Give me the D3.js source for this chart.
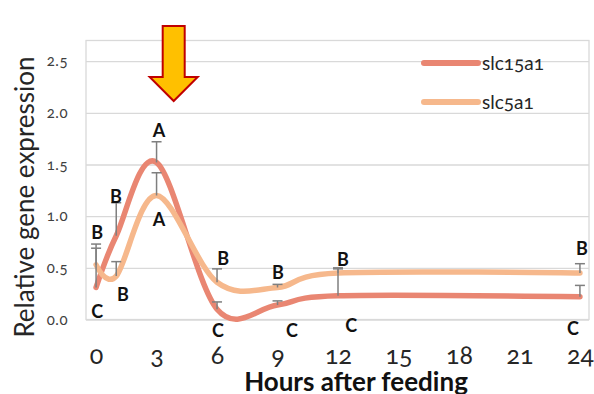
<!DOCTYPE html>
<html>
  <head>
    <meta charset="utf-8">
    <title>Relative gene expression</title>
    <script src="https://d3js.org/d3.v7.min.js"></script>
    <style>
      body { margin: 0; background: #fff; }
      text { font-family: Lato, "Open Sans", sans-serif; font-variant-numeric: oldstyle-nums; }
    </style>
  </head>
  <body>
<script>
// hours after feeding where samples were taken
var hours = [0, 1, 3, 6, 9, 12, 24];
var xTicks = [0, 3, 6, 9, 12, 15, 18, 21, 24];
var yTicks = [0, 0.5, 1, 1.5, 2, 2.5];

var seriesNames = ["slc15a1", "slc5a1"];
var slc15a1 = [0.31, 0.81, 1.52, 0.10, 0.14, 0.23, 0.22];
var slc15a1Err = [0.38, 0.32, 0.20, 0.07, 0.04, 0.27, 0.11];
var slc5a1 = [0.53, 0.42, 1.20, 0.36, 0.31, 0.45, 0.45];
var slc5a1Err = [0.20, 0.14, 0.22, 0.13, 0.03, 0.04, 0.09];

// significance letters, placed in chart units (hours, expression)
var letterText = ["B", "C", "B", "B", "A", "A", "B", "C", "B", "C", "B", "C", "B", "C"];
var letterHour = [0.05, 0.05, 0.99, 1.33, 3.12, 3.12, 6.3, 6.05, 9.02, 9.72, 12.25, 12.65, 24.1, 23.65];
var letterValue = [0.836, 0.072, 1.193, 0.237, 1.831, 0.961, 0.585, -0.111, 0.449, -0.111, 0.575, -0.063, 0.681, -0.092];

var colors = ["#e98672", "#f6b88c"];

var width = 594, height = 394,
    svg = d3.select("body").append("svg")
      .attr("width", width)
      .attr("height", height);

var x = d3.scaleLinear().domain([-0.5, 24.45]).range([86, 589]);
var y = d3.scaleLinear().domain([0, 2.7]).range([319.5, 40.5]);

// plot frame and gridlines
svg.append("rect")
  .attr("x", x.range()[0]).attr("y", y.range()[1])
  .attr("width", x.range()[1] - x.range()[0])
  .attr("height", y.range()[0] - y.range()[1])
  .attr("fill", "none")
  .attr("stroke", "#d9d9d9")
  .attr("stroke-width", 1.3);

var yAxis = svg.append("g")
  .attr("transform", "translate(" + x.range()[0] + ",0)")
  .call(d3.axisLeft(y).tickValues(yTicks).tickSize(x.range()[0] - x.range()[1]).tickPadding(18)
    .tickFormat(d3.format(".1f")));
yAxis.select(".domain").remove();
yAxis.selectAll("line").attr("stroke", "#d9d9d9").attr("stroke-width", 1.3);
yAxis.selectAll("text").attr("font-size", 15).attr("fill", "#404040")
  .attr("letter-spacing", 0.5);

var xAxis = svg.append("g")
  .attr("transform", "translate(0," + y.range()[0] + ")")
  .call(d3.axisBottom(x).tickValues(xTicks).tickSize(0).tickPadding(27));
xAxis.select(".domain").remove();
xAxis.selectAll("text").attr("font-size", 25).attr("fill", "#262626");

svg.append("text")
  .attr("transform", "translate(34,197) rotate(-90)")
  .attr("text-anchor", "middle")
  .attr("font-size", 26)
  .attr("fill", "#262626")
  .text("Relative gene expression");

svg.append("text")
  .attr("x", 356).attr("y", 391)
  .attr("text-anchor", "middle")
  .attr("font-size", 26)
  .attr("font-weight", "bold")
  .attr("fill", "#111")
  .text("Hours after feeding");

// smoothed lines
var series = [slc15a1, slc5a1];
var errs = [slc15a1Err, slc5a1Err];

var line = d3.line()
  .x(function(d, i) { return x(hours[i]); })
  .y(function(d) { return y(d); })
  .curve(d3.curveCardinal.tension(0));

series.forEach(function(s, k) {
  svg.append("path")
    .datum(s)
    .attr("d", line)
    .attr("fill", "none")
    .attr("stroke", colors[k])
    .attr("stroke-width", 5.5)
    .attr("stroke-linecap", "round");
});

// error bars (upper only)
series.forEach(function(s, k) {
  var g = svg.append("g").attr("stroke", "#7f7f7f").attr("stroke-width", 1.5);
  g.selectAll("line.v").data(s).enter().append("line")
    .attr("x1", function(d, i) { return x(hours[i]); })
    .attr("x2", function(d, i) { return x(hours[i]); })
    .attr("y1", function(d) { return y(d); })
    .attr("y2", function(d, i) { return y(d + errs[k][i]); });
  g.selectAll("line.c").data(s).enter().append("line")
    .attr("x1", function(d, i) { return x(hours[i]) - 5; })
    .attr("x2", function(d, i) { return x(hours[i]) + 5; })
    .attr("y1", function(d, i) { return y(d + errs[k][i]); })
    .attr("y2", function(d, i) { return y(d + errs[k][i]); });
});

svg.selectAll("text.letter").data(letterText).enter().append("text")
  .attr("class", "letter")
  .attr("x", function(d, i) { return x(letterHour[i]); })
  .attr("y", function(d, i) { return y(letterValue[i]); })
  .attr("dy", "0.35em")
  .attr("text-anchor", "middle")
  .attr("font-size", 18)
  .attr("font-weight", "bold")
  .attr("fill", "#111")
  .text(function(d) { return d; });

// legend
var legend = svg.append("g");
seriesNames.forEach(function(name, k) {
  var ly = 63 + k * 39;
  legend.append("line")
    .attr("x1", 424).attr("x2", 478)
    .attr("y1", ly).attr("y2", ly)
    .attr("stroke", colors[k])
    .attr("stroke-width", 6)
    .attr("stroke-linecap", "round");
  legend.append("text")
    .attr("x", 482).attr("y", ly)
    .attr("dy", "0.35em")
    .attr("font-size", 19)
    .attr("fill", "#262626")
    .text(name);
});

// yellow arrow pointing at the feeding peak
var ax = x(3.85);
svg.append("path")
  .attr("d", "M" + (ax - 11) + ",26 H" + (ax + 11) + " V77 H" + (ax + 24) +
    " L" + ax + ",101 L" + (ax - 24) + ",77 H" + (ax - 11) + " Z")
  .attr("fill", "#ffc000")
  .attr("stroke", "#c00000")
  .attr("stroke-width", 2)
  .attr("stroke-linejoin", "miter");
</script>
  </body>
</html>
